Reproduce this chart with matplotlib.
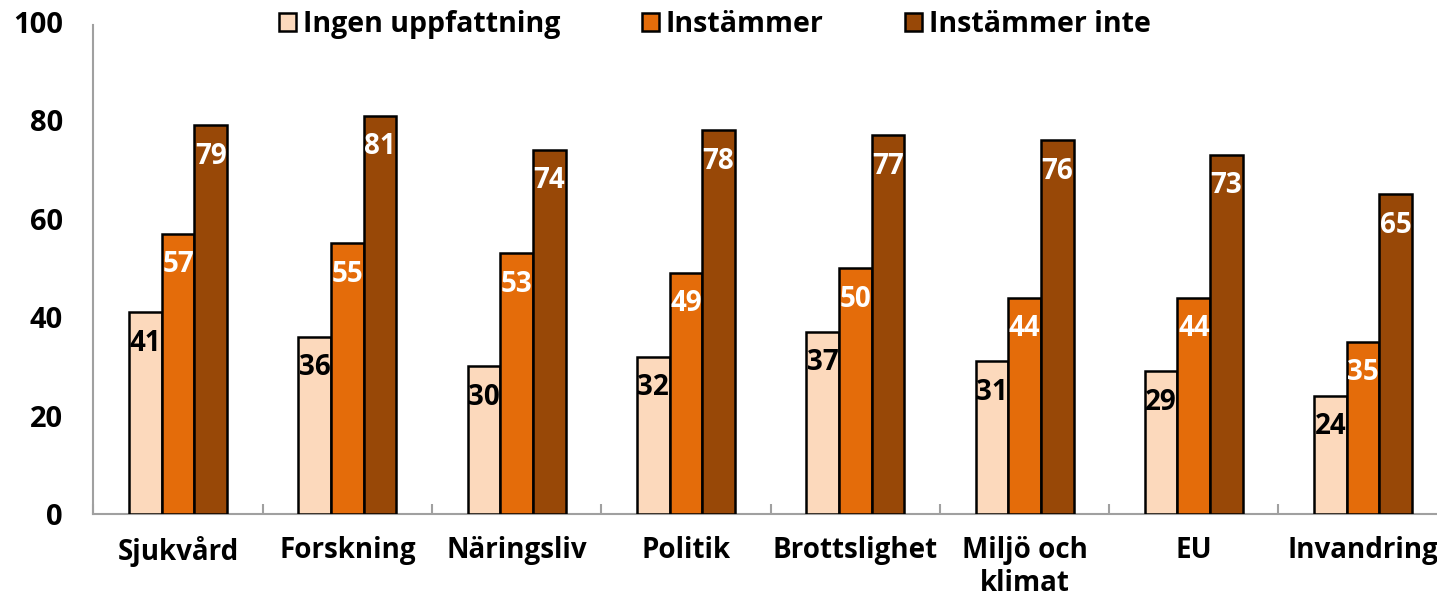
import matplotlib
matplotlib.use('Agg')
import matplotlib.pyplot as plt
import numpy as np

plt.rcParams['font.family'] = ['Open Sans', 'DejaVu Sans']
plt.rcParams['font.weight'] = 'bold'

# 数据
categories = ['Sjukvård', 'Forskning', 'Näringsliv', 'Politik', 'Brottslighet',
              'Miljö och\nklimat', 'EU', 'Invandring']
series = ['Ingen uppfattning', 'Instämmer', 'Instämmer inte']
ingen = [41, 36, 30, 32, 37, 31, 29, 24]
instammer = [57, 55, 53, 49, 50, 44, 44, 35]
instammer_inte = [79, 81, 74, 78, 77, 76, 73, 65]

colors = ['#FCD9BC', '#E46C0A', '#984807']
txt_colors = ['black', 'white', 'white']

fig = plt.figure(figsize=(14.37, 5.96), dpi=100)
ax = fig.add_axes([0.065, 0.1376, 0.9425, 0.8254])

x = np.arange(len(categories))
w = 0.193
for i, vals in enumerate([ingen, instammer, instammer_inte]):
    xs = x + (i - 1) * w
    ax.bar(xs, vals, width=w, color=colors[i], edgecolor='black',
           linewidth=1.8, label=series[i], zorder=3)
    for xx, v in zip(xs, vals):
        ax.text(xx, v - 6.3, str(v), ha='center', va='center', color=txt_colors[i],
                fontsize=20, fontweight='bold', zorder=4)

ax.set_xlim(-0.5, len(categories) - 0.5)
ax.set_ylim(0, 100)
ax.set_yticks([0, 20, 40, 60, 80, 100])
ax.set_xticks(x)
ax.set_xticklabels(categories, fontsize=20, fontweight='bold', linespacing=1.15)
ax.set_xticks(np.arange(len(categories) + 1) - 0.5, minor=True)
ax.tick_params(axis='x', which='major', length=0, pad=16)
ax.tick_params(axis='x', which='minor', direction='in', length=7, color='#a0a0a0', width=1.5)
ax.tick_params(axis='y', length=0, pad=22, labelsize=21)
for lab in ax.get_yticklabels():
    lab.set_fontweight('bold')

for s in ['top', 'right']:
    ax.spines[s].set_visible(False)
ax.spines['left'].set_color('#a0a0a0')
ax.spines['bottom'].set_color('#a0a0a0')
ax.spines['left'].set_linewidth(1.5)
ax.spines['bottom'].set_linewidth(1.5)
ax.spines['left'].set_bounds(0, 99.5)

leg = ax.legend(loc='center', bbox_to_anchor=(0.459, 0.995), ncol=3, frameon=False,
                prop={'family': ['Open Sans', 'DejaVu Sans'], 'weight': 'bold', 'size': 20.5},
                handlelength=0.6, handleheight=0.6, handletextpad=0.25, columnspacing=2.85)

fig.savefig('out.png', dpi=100)
